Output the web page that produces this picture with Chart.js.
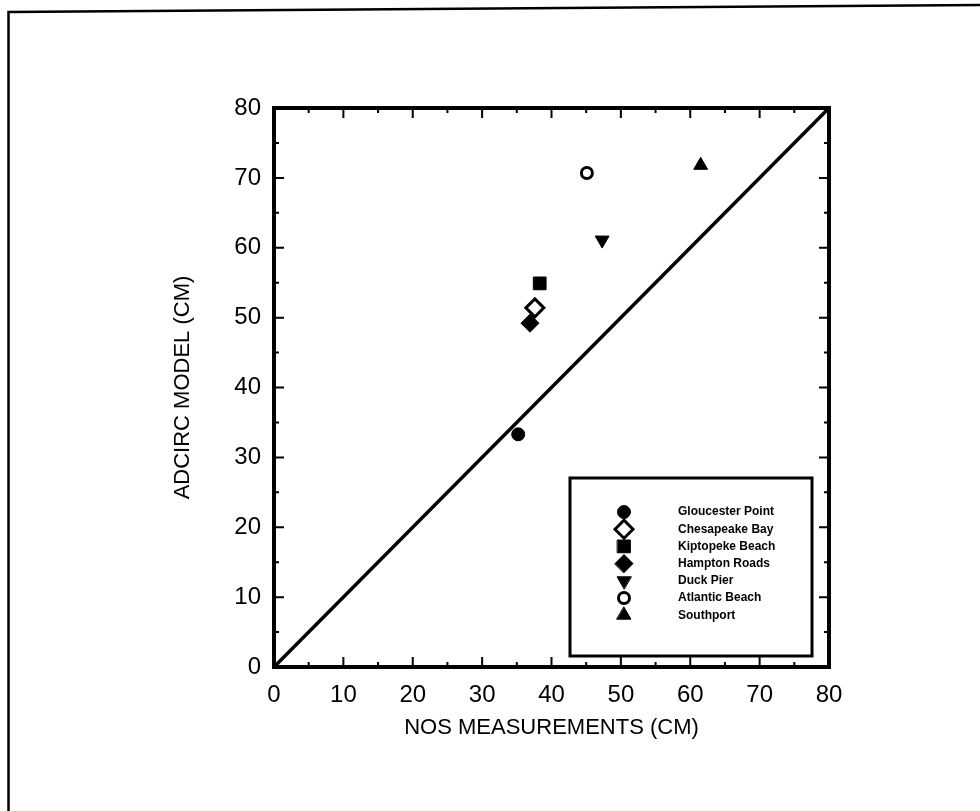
<!DOCTYPE html>
<html>
<head>
<meta charset="utf-8">
<script src="https://cdn.jsdelivr.net/npm/chart.js@4.4.0/dist/chart.umd.min.js"></script>
<style>
  html, body { margin: 0; padding: 0; background: #fff; }
  #wrap { width: 980px; height: 811px; }
</style>
</head>
<body>
<div id="wrap"><canvas id="chart" width="980" height="811"></canvas></div>
<script>
// station names and peak surge values (cm)
const stations = ["Gloucester Point", "Chesapeake Bay", "Kiptopeke Beach", "Hampton Roads", "Duck Pier", "Atlantic Beach", "Southport"];
const nosMeasured = [35.2, 37.6, 38.3, 36.9, 47.3, 45.1, 61.5];
const adcircModel = [33.3, 51.4, 54.9, 49.2, 61.1, 70.7, 71.8];
// 1:1 reference line
const diagonalX = [0, 80];
const diagonalY = [0, 80];
const axisMin = 0;
const axisMax = 80;
const axisStep = 10;

// marker look per station
const markers = [
  { style: "circle", radius: 6.5, filled: true, rotation: 0 },
  { style: "rectRot", radius: 9, filled: false, rotation: 0 },
  { style: "rect", radius: 9, filled: true, rotation: 0 },
  { style: "rectRot", radius: 9, filled: true, rotation: 0 },
  { style: "triangle", radius: 8, filled: true, rotation: 180 },
  { style: "circle", radius: 5.5, filled: false, rotation: 0 },
  { style: "triangle", radius: 8, filled: true, rotation: 0 },
];

Chart.defaults.font.family = "'Liberation Sans', Arial, sans-serif";
Chart.defaults.color = "#000";

const datasets = stations.map((name, i) => ({
  type: "scatter",
  label: name,
  data: [{ x: nosMeasured[i], y: adcircModel[i] }],
  pointStyle: markers[i].style,
  rotation: markers[i].rotation,
  pointRadius: markers[i].radius,
  backgroundColor: markers[i].filled ? "#000" : "#fff",
  borderColor: "#000",
  borderWidth: markers[i].filled ? 1 : 3,
}));

datasets.unshift({
  type: "line",
  label: "1:1",
  data: diagonalX.map((x, i) => ({ x: x, y: diagonalY[i] })),
  borderColor: "#000",
  borderWidth: 3.5,
  pointRadius: 0,
  fill: false,
});

// frame, inward ticks, legend box and page border
const decorations = {
  id: "decorations",
  afterDraw(chart) {
    const { ctx, chartArea: a, scales } = chart;
    const xs = scales.x, ys = scales.y;
    ctx.save();
    ctx.strokeStyle = "#000";
    ctx.lineCap = "square";

    // page border (left and top only)
    ctx.lineWidth = 2.5;
    ctx.beginPath();
    ctx.moveTo(8.5, 811);
    ctx.lineTo(8.5, 12);
    ctx.lineTo(980, 5);
    ctx.stroke();

    // plot frame
    ctx.lineWidth = 4;
    ctx.strokeRect(a.left, a.top, a.right - a.left, a.bottom - a.top);

    // ticks every 5, long at every 10
    ctx.lineWidth = 2;
    for (let v = axisMin; v <= axisMax; v += axisStep / 2) {
      const len = v % axisStep === 0 ? 9 : 4;
      const px = xs.getPixelForValue(v);
      const py = ys.getPixelForValue(v);
      ctx.beginPath();
      ctx.moveTo(px, a.bottom); ctx.lineTo(px, a.bottom - len);
      ctx.moveTo(px, a.top); ctx.lineTo(px, a.top + len);
      ctx.moveTo(a.left, py); ctx.lineTo(a.left + len, py);
      ctx.moveTo(a.right, py); ctx.lineTo(a.right - len, py);
      ctx.stroke();
    }

    // legend
    const box = { left: 570, top: 478, right: 812, bottom: 656 };
    ctx.lineWidth = 3;
    ctx.fillStyle = "#fff";
    ctx.fillRect(box.left, box.top, box.right - box.left, box.bottom - box.top);
    ctx.strokeRect(box.left, box.top, box.right - box.left, box.bottom - box.top);

    ctx.font = "bold 12px 'Liberation Sans', Arial, sans-serif";
    ctx.textBaseline = "middle";
    ctx.textAlign = "left";
    chart.data.datasets.forEach((ds) => {
      if (ds.type !== "scatter") return;
      const i = stations.indexOf(ds.label);
      const y = 512 + i * 17.2;
      ctx.fillStyle = ds.backgroundColor;
      ctx.strokeStyle = ds.borderColor;
      ctx.lineWidth = ds.borderWidth;
      Chart.helpers.drawPoint(ctx, {
        pointStyle: ds.pointStyle,
        rotation: ds.rotation,
        radius: ds.pointRadius,
        borderWidth: ds.borderWidth,
      }, 624, y);
      ctx.fillStyle = "#000";
      ctx.fillText(ds.label, 678, y);
    });
    ctx.restore();
  },
};

new Chart(document.getElementById("chart"), {
  data: { datasets: datasets },
  options: {
    responsive: false,
    animation: false,
    devicePixelRatio: 1,
    layout: { padding: { left: 0, top: 108, right: 151, bottom: 0 } },
    plugins: { legend: { display: false }, tooltip: { enabled: false } },
    scales: {
      x: {
        type: "linear",
        min: axisMin,
        max: axisMax,
        afterFit(scale) { scale.height = 144; },
        grid: { display: false, drawTicks: false },
        border: { display: false },
        ticks: { stepSize: axisStep, padding: 14, font: { size: 24 }, color: "#000" },
        title: {
          display: true,
          text: "NOS MEASUREMENTS (CM)",
          font: { size: 22 },
          color: "#000",
          padding: { top: 0, bottom: 70 },
        },
      },
      y: {
        type: "linear",
        min: axisMin,
        max: axisMax,
        afterFit(scale) { scale.width = 274; },
        grid: { display: false, drawTicks: false },
        border: { display: false },
        ticks: { stepSize: axisStep, padding: 13, font: { size: 24 }, color: "#000" },
        title: {
          display: true,
          text: "ADCIRC MODEL (CM)",
          font: { size: 22 },
          color: "#000",
          padding: { top: 170, bottom: 0 },
        },
      },
    },
  },
  plugins: [decorations],
});
</script>
</body>
</html>
